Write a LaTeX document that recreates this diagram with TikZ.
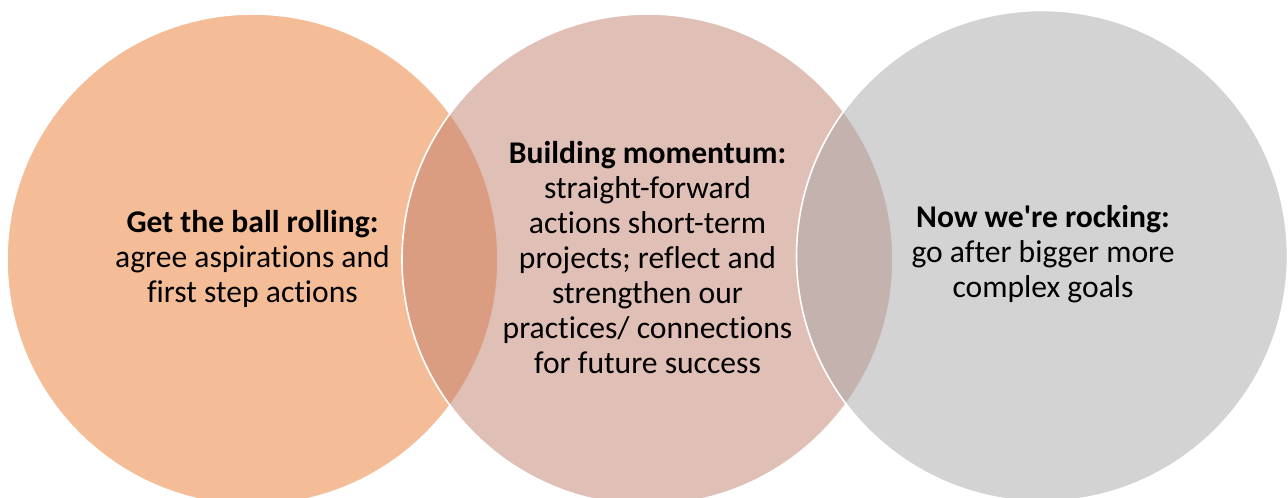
\documentclass[tikz,border=0pt]{standalone}
\usepackage{fontspec}
\setmainfont{Carlito}[Ligatures=NoCommon]
\newfontfamily\nomapfont{Carlito}[Ligatures=ResetAll]
\definecolor{peach}{RGB}{233,123,49}
\definecolor{rose}{RGB}{193,127,109}
\definecolor{greyc}{RGB}{167,167,167}
\tikzset{
  venn/.style={circle, minimum size=491pt, inner sep=0pt, draw=white, line width=1.6pt, fill opacity=0.5, draw opacity=1},
  vtext/.style={align=center, font=\fontsize{31.6pt}{35pt}\selectfont, text=black, inner sep=0pt}
}
\begin{document}
\begin{tikzpicture}[x=1pt,y=-1pt]
\useasboundingbox (0,0) rectangle (1288,498);
\clip (0,0) rectangle (1288,498);
\node[venn, fill=peach] (c1) at (252.5,259.5) {};
\node[venn, fill=rose] (c2) at (647.5,259.5) {};
\node[venn, fill=greyc] (c3) at (1042,256) {};
\node[vtext] (t1) at (252.5,259) {\textbf{Get the ball rolling:}\\agree aspirations and\\first step actions};
\node[vtext] (t2) at (647.5,258) {\textbf{Building momentum:}\\straight-forward\\actions short-term\\projects; reflect and\\strengthen our\\practices/ connections\\for future success};
\node[vtext] (t3) at (1043,254) {\textbf{Now we{\nomapfont\bfseries'}re rocking:}\\go after bigger more\\complex goals};
\end{tikzpicture}
\end{document}
